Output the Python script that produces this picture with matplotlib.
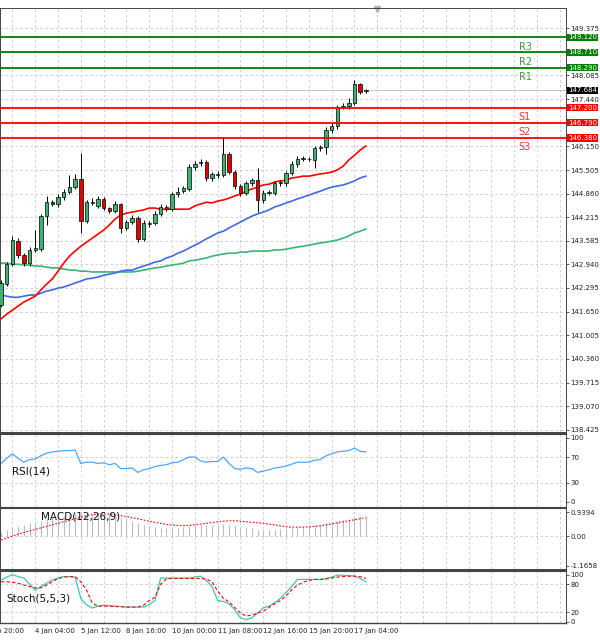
import matplotlib
matplotlib.use('Agg')
import matplotlib.pyplot as plt
import numpy as np

# 4H candles
opens = [141.83, 142.40, 142.94, 143.57, 143.19, 142.97, 143.33, 143.35, 144.25, 144.63,
         144.58, 144.77, 144.91, 145.04, 145.26, 144.12, 144.61, 144.53, 144.72, 144.47,
         144.39, 144.58, 143.93, 144.09, 144.20, 143.63, 144.03, 144.06, 144.31, 144.50,
         144.44, 144.85, 144.93, 144.99, 145.59, 145.70, 145.72, 145.29, 145.37, 145.37,
         145.94, 145.45, 145.07, 144.88, 145.15, 145.23, 144.69, 144.88, 144.88, 145.15,
         145.15, 145.42, 145.67, 145.81, 145.81, 145.78, 146.10, 146.13, 146.60, 146.70,
         147.22, 147.25, 147.33, 147.85, 147.66]
closes = [142.43, 142.94, 143.60, 143.19, 142.97, 143.33, 143.38, 144.25, 144.63, 144.58,
          144.77, 144.91, 145.04, 145.26, 144.12, 144.63, 144.63, 144.72, 144.47, 144.39,
          144.58, 143.93, 144.09, 144.20, 143.63, 144.06, 144.06, 144.31, 144.50, 144.44,
          144.85, 144.91, 145.01, 145.59, 145.67, 145.72, 145.29, 145.40, 145.40, 145.94,
          145.45, 145.07, 144.88, 145.15, 145.23, 144.69, 144.88, 144.90, 145.15, 145.17,
          145.42, 145.67, 145.81, 145.82, 145.80, 146.10, 146.13, 146.60, 146.70, 147.22,
          147.25, 147.33, 147.85, 147.63, 147.68]
highs = [142.50, 143.00, 143.71, 143.66, 143.25, 143.40, 143.87, 144.32, 144.80, 144.70,
         144.85, 144.98, 145.37, 145.40, 145.97, 144.70, 144.75, 144.80, 144.78, 144.50,
         144.66, 144.62, 144.15, 144.28, 144.26, 144.15, 144.12, 144.38, 144.58, 144.56,
         144.92, 145.05, 145.08, 145.66, 145.75, 145.80, 145.77, 145.46, 145.47, 146.40,
         146.00, 145.50, 145.12, 145.22, 145.30, 145.56, 144.95, 144.96, 145.22, 145.24,
         145.48, 145.74, 145.88, 145.88, 145.87, 146.17, 146.20, 146.67, 146.78, 147.28,
         147.32, 147.48, 147.95, 147.88, 147.70]
lows = [141.78, 142.35, 142.88, 143.12, 142.90, 142.90, 143.28, 143.30, 144.00, 144.52,
        144.50, 144.70, 144.84, 144.98, 143.79, 144.05, 144.55, 144.46, 144.42, 144.33,
        144.34, 143.80, 143.86, 144.03, 143.55, 143.58, 143.95, 144.00, 144.25, 144.38,
        144.38, 144.78, 144.88, 144.93, 145.52, 145.62, 145.22, 145.22, 145.30, 145.32,
        145.40, 145.00, 144.80, 144.82, 145.08, 144.36, 144.62, 144.82, 144.82, 145.08,
        145.08, 145.36, 145.60, 145.75, 145.74, 145.55, 146.02, 145.95, 146.52, 146.62,
        147.16, 147.18, 147.27, 147.58, 147.60]

ma_red = [141.45, 141.58, 141.69, 141.80, 141.91, 141.99, 142.07, 142.24, 142.40, 142.54,
          142.75, 142.97, 143.16, 143.30, 143.43, 143.54, 143.65, 143.76, 143.87, 144.01,
          144.17, 144.28, 144.33, 144.36, 144.39, 144.42, 144.47, 144.47, 144.44, 144.44,
          144.44, 144.44, 144.44, 144.44, 144.53, 144.58, 144.63, 144.61, 144.66, 144.69,
          144.74, 144.80, 144.85, 144.93, 144.99, 145.04, 145.10, 145.12, 145.18, 145.21,
          145.23, 145.29, 145.31, 145.34, 145.34, 145.37, 145.40, 145.42, 145.45, 145.51,
          145.61, 145.78, 145.91, 146.05, 146.16]
ma_blue = [142.10, 142.07, 142.04, 142.04, 142.07, 142.10, 142.10, 142.15, 142.21, 142.24,
           142.29, 142.32, 142.37, 142.43, 142.48, 142.54, 142.56, 142.59, 142.64, 142.67,
           142.70, 142.75, 142.78, 142.78, 142.84, 142.89, 142.94, 143.00, 143.03, 143.11,
           143.16, 143.24, 143.30, 143.38, 143.46, 143.54, 143.63, 143.71, 143.79, 143.84,
           143.93, 144.01, 144.09, 144.17, 144.25, 144.31, 144.36, 144.42, 144.50, 144.55,
           144.61, 144.66, 144.72, 144.77, 144.82, 144.88, 144.93, 144.99, 145.04, 145.07,
           145.10, 145.15, 145.21, 145.29, 145.34]
ma_green = [142.97, 142.97, 142.94, 142.94, 142.92, 142.92, 142.89, 142.89, 142.86, 142.84,
            142.84, 142.81, 142.78, 142.78, 142.75, 142.75, 142.73, 142.73, 142.73, 142.73,
            142.73, 142.73, 142.73, 142.73, 142.75, 142.78, 142.81, 142.84, 142.86, 142.89,
            142.92, 142.94, 142.97, 143.03, 143.05, 143.08, 143.11, 143.16, 143.19, 143.22,
            143.24, 143.24, 143.27, 143.27, 143.30, 143.30, 143.30, 143.30, 143.33, 143.33,
            143.35, 143.38, 143.41, 143.43, 143.46, 143.49, 143.52, 143.54, 143.57, 143.60,
            143.65, 143.71, 143.79, 143.84, 143.90]

rsi = [60, 68, 75, 68, 62, 66, 67, 72, 76, 78, 79, 80, 80, 81, 60, 62, 62, 60, 61, 58,
       60, 52, 52, 53, 46, 50, 52, 55, 57, 58, 61, 62, 66, 70, 70, 64, 62, 63, 63, 70,
       60, 52, 51, 53, 52, 46, 48, 50, 53, 54, 56, 59, 62, 62, 62, 65, 66, 72, 75, 78,
       79, 80, 84, 79, 78]
macd_hist = [0.15, 0.25, 0.35, 0.40, 0.45, 0.50, 0.55, 0.60, 0.68, 0.72, 0.76, 0.80, 0.84,
             0.86, 0.86, 0.86, 0.88, 0.90, 0.88, 0.85, 0.80, 0.72, 0.65, 0.58, 0.50, 0.45,
             0.40, 0.36, 0.33, 0.30, 0.30, 0.32, 0.35, 0.40, 0.42, 0.45, 0.45, 0.45, 0.44,
             0.48, 0.42, 0.38, 0.33, 0.30, 0.30, 0.25, 0.24, 0.24, 0.25, 0.26, 0.28, 0.30,
             0.32, 0.35, 0.38, 0.42, 0.45, 0.50, 0.55, 0.60, 0.62, 0.68, 0.75, 0.78, 0.80]
macd_signal = [-0.15, -0.08, 0.00, 0.07, 0.14, 0.20, 0.26, 0.32, 0.38, 0.44, 0.50, 0.56,
               0.62, 0.68, 0.74, 0.80, 0.84, 0.86, 0.87, 0.86, 0.84, 0.80, 0.76, 0.72,
               0.68, 0.63, 0.58, 0.54, 0.50, 0.46, 0.43, 0.42, 0.41, 0.42, 0.44, 0.47,
               0.50, 0.53, 0.56, 0.58, 0.60, 0.60, 0.58, 0.56, 0.54, 0.52, 0.50, 0.47,
               0.44, 0.40, 0.37, 0.35, 0.35, 0.35, 0.36, 0.38, 0.40, 0.44, 0.48, 0.52,
               0.56, 0.60, 0.64, 0.68, 0.72]
stoch_k = [89, 95, 100, 96, 93, 80, 67, 75, 82, 89, 93, 96, 96, 95, 49, 36, 29, 33, 35, 34,
           33, 32, 31, 31, 31, 31, 36, 45, 93, 93, 93, 93, 93, 93, 95, 97, 88, 75, 45, 43,
           38, 25, 8, 4, 8, 18, 29, 33, 40, 50, 62, 75, 90, 90, 90, 90, 90, 92, 95, 99,
           99, 98, 97, 92, 85]
stoch_d = [85, 85, 84, 82, 78, 75, 72, 72, 78, 85, 92, 95, 96, 96, 85, 67, 40, 33, 33, 33,
           32, 32, 31, 31, 31, 35, 45, 52, 80, 91, 92, 92, 92, 92, 92, 92, 91, 85, 65, 50,
           42, 30, 18, 12, 14, 18, 22, 30, 38, 45, 55, 68, 78, 84, 88, 90, 90, 91, 93, 95,
           96, 97, 97, 96, 92]

res_levels = [149.120, 148.710, 148.290]
res_names = ['R3', 'R2', 'R1']
sup_levels = [147.200, 146.790, 146.380]
sup_names = ['S1', 'S2', 'S3']
last_price = 147.684

tick_pos = [2, 6, 14, 22, 30, 38, 46, 54, 62]
tick_labels = ['3 Jan 20:00', '4 Jan 04:00', '5 Jan 12:00', '8 Jan 16:00', '10 Jan 00:00',
               '11 Jan 08:00', '12 Jan 16:00', '15 Jan 20:00', '17 Jan 04:00']
price_ticks = [149.375, 148.730, 148.085, 147.440, 146.795, 146.150, 145.505, 144.860,
               144.215, 143.585, 142.940, 142.295, 141.650, 141.005, 140.360, 139.715,
               139.070, 138.425]

W, H = 600, 640
fig = plt.figure(figsize=(6, 6.4), dpi=100)
fig.patch.set_facecolor('white')


def px_axes(x0, y0, x1, y1):
    return fig.add_axes([x0 / W, 1 - y1 / H, (x1 - x0) / W, (y1 - y0) / H])


XL = (-0.18, 99.1)
GRID = dict(color='#c8c8c8', linestyle=(0, (3, 3)), linewidth=0.6)
FS = 5
idx = np.arange(len(closes))


def style(ax):
    ax.set_xlim(*XL)
    ax.yaxis.tick_right()
    ax.tick_params(axis='y', length=2, width=0.5, labelsize=FS, pad=1, colors='#222222')
    ax.tick_params(axis='x', length=0, labelbottom=False)
    for s in ax.spines.values():
        s.set_linewidth(0.7)
        s.set_color('#444444')
    ax.spines['top'].set_linewidth(1.5)
    ax.set_xticks(np.arange(2, 99, 4))
    for xv in np.arange(2, 99, 4):
        ax.axvline(xv, zorder=0, **GRID)


def tag(ax, y, txt, fc):
    ax.text(99.45, y, txt, color='white', fontsize=FS, va='center', ha='left',
            clip_on=False, bbox=dict(boxstyle='square,pad=0.08', fc=fc, ec='none'))


# main price panel
ax = px_axes(0, 8, 566, 432)
style(ax)
ax.spines['top'].set_linewidth(0.7)
ax.set_ylim(138.37, 149.92)
ax.set_yticks(price_ticks)
ax.set_yticklabels(['' if abs(t - 148.730) < 1e-6 or abs(t - 146.795) < 1e-6 else f'{t:.3f}'
                    for t in price_ticks])
for t in price_ticks:
    ax.axhline(t, zorder=0, **GRID)

ax.plot(idx, ma_green, color='#3cb371', lw=1.2, zorder=2)
ax.plot(idx, ma_blue, color='#4169e1', lw=1.2, zorder=2)
ax.plot(idx, ma_red, color='#ff0000', lw=1.2, zorder=2)

for i in idx:
    o, c = opens[i], closes[i]
    ax.vlines(i, lows[i], highs[i], color='black', lw=0.7, zorder=3)
    col = '#3cb371' if c >= o else '#e00000'
    bh = max(abs(c - o), 0.012)
    ax.add_patch(plt.Rectangle((i - 0.3, min(o, c)), 0.6, bh, facecolor=col,
                               edgecolor='black', lw=0.5, zorder=4))

ax.axhline(last_price, color='#c0c0c0', lw=0.6, zorder=1)

for lv, nm in zip(res_levels, res_names):
    ax.axhline(lv, color='#008000', lw=1.3, zorder=5)
    ax.text(90.8, lv - 0.12, nm, color='#3c9a3c', fontsize=7, va='top', ha='left')
    tag(ax, lv, f'{lv:.3f}', '#008000')
for lv, nm in zip(sup_levels, sup_names):
    ax.axhline(lv, color='#ff0000', lw=1.3, zorder=5)
    ax.text(90.8, lv - 0.12, nm, color='#ff3030', fontsize=7, va='top', ha='left')
    tag(ax, lv, f'{lv:.3f}', '#ff0000')
tag(ax, last_price, f'{last_price:.3f}', 'black')
ax.plot([66], [149.88], marker='v', color='#b0b0b0', ms=4, clip_on=False)

# RSI panel
ax1 = px_axes(0, 434, 566, 507)
style(ax1)
ax1.set_ylim(-8, 106)
ax1.set_yticks([0, 30, 70, 100])
for t in [30, 70]:
    ax1.axhline(t, zorder=0, **GRID)
ax1.plot(idx, rsi, color='#4da6ff', lw=0.9)
ax1.text(2, 48, 'RSI(14)', fontsize=7.5, color='#111111', va='center')

# MACD panel
ax2 = px_axes(0, 508, 566, 569)
style(ax2)
ax2.set_ylim(-1.29, 1.10)
ax2.set_yticks([-1.1658, 0.0, 0.9394])
ax2.set_yticklabels(['-1.1658', '0.00', '0.9394'])
ax2.axhline(0, zorder=0, **GRID)
ax2.vlines(idx, 0, macd_hist, color='#bdbdbd', lw=0.8)
ax2.plot(idx, macd_signal, color='#ff0000', lw=0.8, linestyle=(0, (1.5, 1.5)))
ax2.text(7, 0.75, 'MACD(12,26,9)', fontsize=7.5, color='#111111', va='center')

# Stochastic panel
ax3 = px_axes(0, 571, 566, 623)
style(ax3)
ax3.set_ylim(-3, 108)
ax3.set_yticks([0, 20, 80, 100])
for t in [20, 80]:
    ax3.axhline(t, zorder=0, **GRID)
ax3.plot(idx, stoch_k, color='#3ec6b4', lw=0.9)
ax3.plot(idx, stoch_d, color='#ff0000', lw=0.8, linestyle=(0, (3, 2)))
ax3.text(1, 50, 'Stoch(5,5,3)', fontsize=7.5, color='#111111', va='center')
ax3.spines['bottom'].set_linewidth(1.0)

for xv, lab in zip(tick_pos, tick_labels):
    xpx = 1 + 5.7 * xv if xv != 2 else -16
    fig.text(xpx / W, 1 - 631 / H, lab, fontsize=FS, ha='left', va='center',
             color='#222222')

fig.savefig('out.png', dpi=100, facecolor='white')
